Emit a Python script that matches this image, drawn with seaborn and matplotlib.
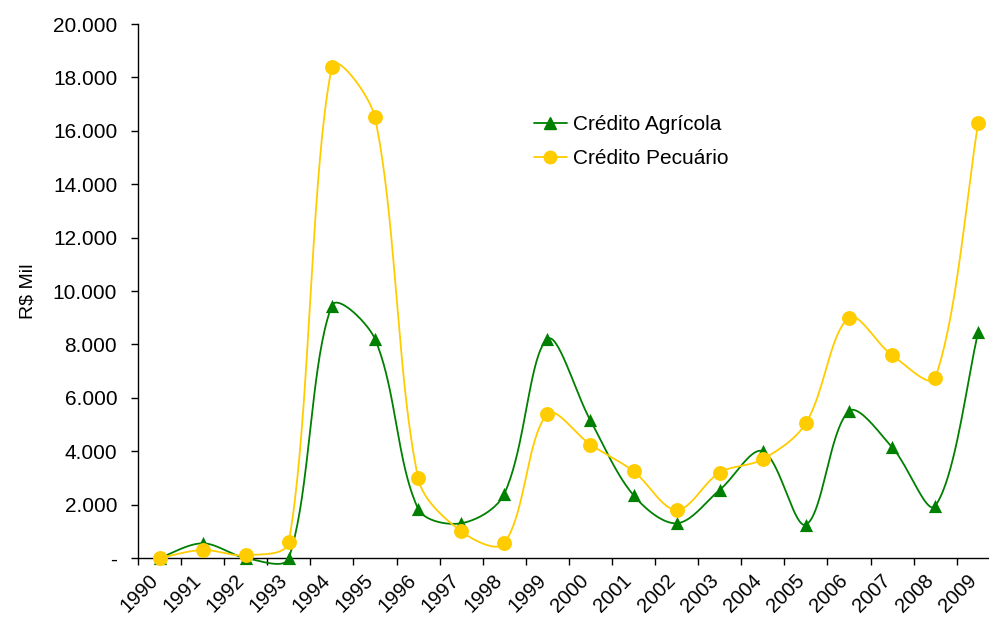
import numpy as np
import pandas as pd
import matplotlib
matplotlib.use("Agg")
import matplotlib.pyplot as plt
import seaborn as sns
from matplotlib.lines import Line2D
from matplotlib.ticker import FuncFormatter

years = [str(y) for y in range(1990, 2010)]
agricola = [0, 550, 0, 0, 9450, 8200, 1850, 1300, 2400, 8200,
            5150, 2350, 1300, 2550, 4000, 1250, 5500, 4150, 1950, 8450]
pecuario = [0, 300, 100, 600, 18400, 16500, 3000, 1000, 550, 5400,
            4250, 3250, 1800, 3200, 3700, 5050, 9000, 7600, 6750, 16300]

GREEN = "#008000"
YELLOW = "#FFCC00"


def smooth(y, n=40, xs_px=43.0, ys_px=534 / 20000):
    # Excel-like smoothed line: bezier segments, tangents weighted by
    # the screen length of neighbouring segments
    y = np.asarray(y, dtype=float)
    x = np.arange(len(y), dtype=float)
    P = np.column_stack([x * xs_px, y * ys_px])
    P = np.vstack([P[0], P, P[-1]])
    out = []
    for i in range(1, len(P) - 2):
        p0, p1, p2, p3 = P[i - 1], P[i], P[i + 1], P[i + 2]
        d01 = np.linalg.norm(p1 - p0)
        d12 = np.linalg.norm(p2 - p1)
        d23 = np.linalg.norm(p3 - p2)
        f1 = d12 / (3 * (d01 + d12)) if d01 + d12 > 0 else 0
        f2 = d12 / (3 * (d12 + d23)) if d12 + d23 > 0 else 0
        f1 = min(f1, 0.25)
        f2 = min(f2, 0.25)
        c1 = p1 + (p2 - p0) * f1
        c2 = p2 - (p3 - p1) * f2
        t = np.linspace(0, 1, n)[:, None]
        b = (1 - t) ** 3 * p1 + 3 * (1 - t) ** 2 * t * c1 + 3 * (1 - t) * t ** 2 * c2 + t ** 3 * p2
        out.append(b)
    b = np.vstack(out)
    return b[:, 0] / xs_px, b[:, 1] / ys_px


sns.set_style("white")
plt.rcParams["font.family"] = ["Liberation Sans", "DejaVu Sans"]
plt.rcParams["text.color"] = "black"
plt.rcParams["axes.labelcolor"] = "black"
plt.rcParams["xtick.color"] = "black"
plt.rcParams["ytick.color"] = "black"

fig = plt.figure(figsize=(9.89, 6.18), dpi=100)
ax = fig.add_axes([138 / 989, 1 - 558 / 618, 1 - 138 / 989, 534 / 618])

idx = np.arange(len(years))
for vals, color, marker, ms in [(agricola, GREEN, "^", 90), (pecuario, YELLOW, "o", 115)]:
    sx, sy = smooth(vals)
    curve = pd.DataFrame({"x": sx, "y": sy})
    sns.lineplot(data=curve, x="x", y="y", ax=ax, color=color, linewidth=1.3,
                 sort=False, estimator=None, clip_on=False)
    pts = pd.DataFrame({"x": idx, "y": vals})
    sns.scatterplot(data=pts, x="x", y="y", ax=ax, color=color, marker=marker,
                    s=ms, linewidth=0, zorder=3, clip_on=False)

ax.set_xlim(-0.5, 19.25)
ax.set_ylim(0, 20000)
ax.set_yticks(np.arange(0, 20001, 2000))
ax.yaxis.set_major_formatter(FuncFormatter(
    lambda v, p: "-" if v == 0 else f"{int(v):,}".replace(",", ".")))
ax.tick_params(axis="y", direction="out", length=5, width=1, color="black",
               labelcolor="black", labelsize=15, pad=10, left=True)

ax.set_xticks(idx - 0.26)
ax.set_xticklabels(years, rotation=45, ha="right", rotation_mode="anchor")
ax.set_xticks(np.arange(-0.5, 19.5, 1), minor=True)
ax.tick_params(axis="x", which="major", length=0, labelsize=14.5, pad=9,
               labelcolor="black")
ax.tick_params(axis="x", which="minor", direction="out", length=5, width=1,
               color="black", bottom=True)

ax.set_xlabel("")
ax.set_ylabel("R$ Mil", fontsize=14, labelpad=12, color="black")

for s in ["top", "right"]:
    ax.spines[s].set_visible(False)
for s in ["left", "bottom"]:
    ax.spines[s].set_color("black")
    ax.spines[s].set_linewidth(1)

handles = [
    Line2D([], [], color=GREEN, marker="^", markersize=9, linewidth=1.3),
    Line2D([], [], color=YELLOW, marker="o", markersize=9, linewidth=1.3),
]
ax.legend(handles, ["Crédito Agrícola", "Crédito Pecuário"], frameon=False,
          fontsize=15, loc="upper left", bbox_to_anchor=(0.443, 0.865),
          handlelength=1.6, handletextpad=0.3, labelspacing=0.75,
          labelcolor="black")

fig.savefig("out.png", dpi=100)
